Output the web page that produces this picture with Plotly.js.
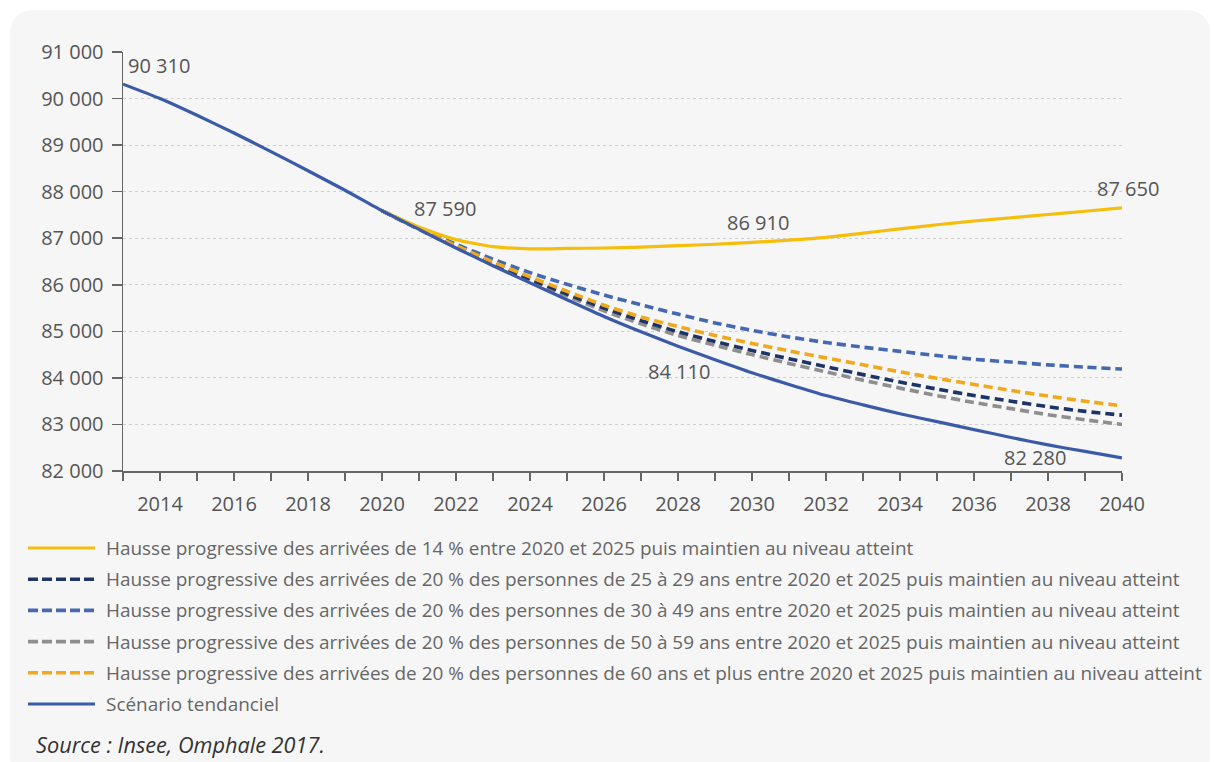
<!DOCTYPE html>
<html>
<head>
<meta charset="utf-8">
<script src="https://cdn.plot.ly/plotly-3.0.1.min.js"></script>
<style>
  html, body { margin:0; padding:0; background:#ffffff; width:1214px; height:762px; overflow:hidden; }
  #card { position:absolute; left:10px; top:10px; width:1200px; height:770px; background:#f6f6f6; border-radius:22px; }
  #chart { position:absolute; left:0; top:0; width:1214px; height:762px; }
</style>
</head>
<body>
<div id="card"></div>
<div id="chart"></div>
<script>
// ---------- DATA ----------
const years = [2013,2014,2015,2016,2017,2018,2019,2020,2021,2022,2023,2024,2025,2026,2027,2028,2029,2030,2031,2032,2033,2034,2035,2036,2037,2038,2039,2040];

const tendanciel = [90310,90000,89640,89260,88860,88450,88030,87590,87190,86790,86410,86040,85680,85320,84990,84680,84390,84110,83860,83620,83420,83230,83060,82890,82720,82560,82420,82280];

const yearsScen = [2020,2021,2022,2023,2024,2025,2026,2027,2028,2029,2030,2031,2032,2033,2034,2035,2036,2037,2038,2039,2040];

const hausse14 = [87590,87240,86970,86820,86770,86780,86790,86810,86840,86870,86910,86960,87020,87110,87200,87290,87370,87440,87510,87580,87650];
const age25_29 = [87590,87200,86820,86460,86120,85800,85500,85230,84990,84780,84590,84410,84240,84070,83910,83760,83620,83500,83380,83280,83200];
const age30_49 = [87590,87210,86870,86550,86260,86010,85780,85570,85370,85180,85020,84880,84760,84660,84570,84480,84400,84340,84280,84230,84190];
const age50_59 = [87590,87190,86810,86440,86090,85760,85440,85160,84910,84700,84500,84310,84130,83950,83780,83620,83470,83340,83210,83100,83000];
const age60plus = [87590,87210,86840,86490,86170,85860,85560,85310,85100,84910,84740,84580,84430,84280,84130,83990,83860,83730,83610,83500,83400];

const seriesNames = [
  "Hausse progressive des arrivées de 14 % entre 2020 et 2025 puis maintien au niveau atteint",
  "Hausse progressive des arrivées de 20 % des personnes de 25 à 29 ans entre 2020 et 2025 puis maintien au niveau atteint",
  "Hausse progressive des arrivées de 20 % des personnes de 30 à 49 ans entre 2020 et 2025 puis maintien au niveau atteint",
  "Hausse progressive des arrivées de 20 % des personnes de 50 à 59 ans entre 2020 et 2025 puis maintien au niveau atteint",
  "Hausse progressive des arrivées de 20 % des personnes de 60 ans et plus entre 2020 et 2025 puis maintien au niveau atteint",
  "Scénario tendanciel"
];

const yTicks = [82000,83000,84000,85000,86000,87000,88000,89000,90000,91000];
const xTickLabels = [2014,2016,2018,2020,2022,2024,2026,2028,2030,2032,2034,2036,2038,2040];
const sourceText = "Source : Insee, Omphale 2017.";

// ---------- STYLE ----------
const colors = ["#f5be0b", "#1f3466", "#4568b2", "#8e8e8e", "#f0a81c", "#3b5ba8"];
const dashes = ["solid", "9px,5px", "9px,5px", "9px,5px", "9px,5px", "solid"];
const widths = [3.2, 3.6, 3.6, 3.6, 3.6, 3.2];

const W = 1214, H = 762;
const M = {l:123, r:92, t:52, b:291};
const pw = W - M.l - M.r, ph = H - M.t - M.b;
const px = x => (x - M.l) / pw;
const py = y => (H - M.b - y) / ph;

const fmt = v => String(v).replace(/\B(?=(\d{3})+(?!\d))/g, " ");

const seriesData = [
  {x: yearsScen, y: hausse14},
  {x: yearsScen, y: age25_29},
  {x: yearsScen, y: age30_49},
  {x: yearsScen, y: age50_59},
  {x: yearsScen, y: age60plus},
  {x: years, y: tendanciel}
];

const drawOrder = [3, 1, 2, 4, 0, 5];
const traces = drawOrder.map(i => ({
  type: "scatter", mode: "lines",
  x: seriesData[i].x, y: seriesData[i].y,
  name: seriesNames[i],
  line: {color: colors[i], width: widths[i], dash: dashes[i], shape: "spline", smoothing: 0.6},
  hoverinfo: "x+y"
}));

// value labels
const labelFont = {family: "Open Sans, sans-serif", size: 20, color: "#555555"};
const last = a => a[a.length - 1];
const idx = (arr, yr) => arr.indexOf(yr);
const annotations = [
  {x: years[0], y: tendanciel[0], text: fmt(tendanciel[0]), xanchor: "left", yanchor: "bottom", xshift: 3, yshift: 3},
  {x: yearsScen[0], y: hausse14[0], text: fmt(hausse14[0]), xanchor: "left", yanchor: "middle", xshift: 30, yshift: 2},
  {x: 2030, y: hausse14[idx(yearsScen, 2030)], text: fmt(hausse14[idx(yearsScen, 2030)]), xanchor: "center", yanchor: "bottom", xshift: 6, yshift: 4},
  {x: last(yearsScen), y: last(hausse14), text: fmt(last(hausse14)), xanchor: "center", yanchor: "bottom", xshift: 6, yshift: 4},
  {x: 2030, y: tendanciel[idx(years, 2030)], text: fmt(tendanciel[idx(years, 2030)]), xanchor: "right", yanchor: "middle", xshift: -40, yshift: 1},
  {x: last(years), y: last(tendanciel), text: fmt(last(tendanciel)), xanchor: "right", yanchor: "middle", xshift: -54, yshift: 0}
].map(a => Object.assign({xref: "x", yref: "y", showarrow: false, font: labelFont}, a));

// custom legend
const shapes = [];
const legendOrder = [0, 1, 2, 3, 4, 5];
legendOrder.forEach((i, k) => {
  const yy = 548 + k * 31.2;
  shapes.push({type: "line", xref: "paper", yref: "paper",
    x0: px(28), x1: px(95), y0: py(yy), y1: py(yy),
    line: {color: colors[i], width: widths[i], dash: dashes[i] === "solid" ? "solid" : "10px,4px"}});
  annotations.push({xref: "paper", yref: "paper", x: px(104), y: py(yy), xanchor: "left", yanchor: "middle",
    text: seriesNames[i], showarrow: false,
    font: {family: "Open Sans, sans-serif", size: 18.95, color: "#666666"}});
});
annotations.push({xref: "paper", yref: "paper", x: px(34), y: py(744), xanchor: "left", yanchor: "middle",
  text: "<i>" + sourceText + "</i>", showarrow: false,
  font: {family: "Open Sans, sans-serif", size: 21.7, color: "#333333"}});

const layout = {
  width: W, height: H,
  margin: M,
  paper_bgcolor: "rgba(0,0,0,0)",
  plot_bgcolor: "rgba(0,0,0,0)",
  separators: ", ",
  showlegend: false,
  font: {family: "Open Sans, sans-serif", color: "#555555"},
  xaxis: {
    range: [2013, 2040],
    tickvals: xTickLabels,
    ticktext: xTickLabels.map(String),
    ticks: "outside", ticklen: 8, tickcolor: "#666666", tickwidth: 1.5,
    ticklabelstandoff: 6,
    minor: {dtick: 1, tick0: 2013, ticks: "outside", ticklen: 8, tickcolor: "#666666", tickwidth: 1.5, showgrid: false},
    showline: true, linecolor: "#666666", linewidth: 1.5,
    showgrid: false, zeroline: false,
    tickfont: {family: "Open Sans, sans-serif", size: 20, color: "#555555"},
    fixedrange: true
  },
  yaxis: {
    range: [82000, 91000],
    tickvals: yTicks,
    ticktext: yTicks.map(fmt),
    ticks: "outside", ticklen: 10, tickcolor: "#666666", tickwidth: 1.5,
    ticklabelstandoff: 4,
    showline: true, linecolor: "#666666", linewidth: 1.5,
    showgrid: true, gridcolor: "#cfcfcf", gridwidth: 1, griddash: "dot",
    zeroline: false,
    tickfont: {family: "Open Sans, sans-serif", size: 20, color: "#555555"},
    fixedrange: true
  },
  annotations: annotations,
  shapes: shapes
};

Plotly.newPlot("chart", traces, layout, {displayModeBar: false, staticPlot: true});
</script>
</body>
</html>
